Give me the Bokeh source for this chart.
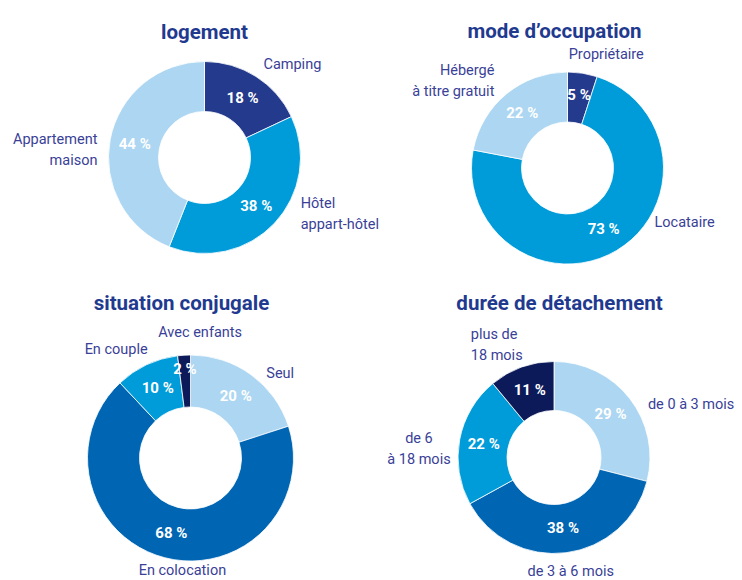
import math
from bokeh.plotting import figure
from bokeh.models import Range1d, ColumnDataSource
from bokeh.core.properties import value
from bokeh.embed import file_html
from bokeh.resources import INLINE

# ---------------- data ----------------
logement_cats = ["Camping", "Hôtel\nappart-hôtel", "Appartement\nmaison"]
logement_vals = [18, 38, 44]

occupation_cats = ["Propriétaire", "Locataire", "Hébergé\nà titre gratuit"]
occupation_vals = [5, 73, 22]

conjugale_cats = ["Seul", "En colocation", "En couple", "Avec enfants"]
conjugale_vals = [20, 68, 10, 2]

duree_cats = ["de 0 à 3 mois", "de 3 à 6 mois", "de 6\nà 18 mois", "plus de\n18 mois"]
duree_vals = [29, 38, 22, 11]

titles = ["logement", "mode d’occupation", "situation conjugale", "durée de détachement"]

# ---------------- styles / layout ----------------
W, H = 742, 580
NAVY = "#243a8c"
MID = "#009bd9"
LIGHT = "#acd6f1"
DARK = "#0066b3"
DEEP = "#0c1a5a"
LABEL_COLOR = "#3a3f98"
TITLE_COLOR = "#1f3a8f"

panels = [
    dict(cats=logement_cats, vals=logement_vals, colors=[NAVY, MID, LIGHT],
         cx=204, cy=157, ro=96, ri=46, title=titles[0], tx=204, ty=31,
         nudges=[(0, 0, None), (16, -19, None), (1, 13, None)]),
    dict(cats=occupation_cats, vals=occupation_vals, colors=[NAVY, MID, LIGHT],
         cx=567, cy=167.5, ro=96, ri=46, title=titles[1], tx=554, ty=30,
         nudges=[(-16, -5, "left"), (31, -40, None), (-3, -2, None)]),
    dict(cats=conjugale_cats, vals=conjugale_vals, colors=[LIGHT, DARK, MID, DEEP],
         cx=190, cy=457.5, ro=103, ri=51, title=titles[2], tx=181, ty=302,
         nudges=[(7, 10, None), (21, -1, None), (7, -3, None), (17, -9, None)]),
    dict(cats=duree_cats, vals=duree_vals, colors=[LIGHT, DARK, MID, DEEP],
         cx=553.5, cy=457, ro=96, ri=47, title=titles[3], tx=559, ty=302,
         nudges=[(7, 14, None), (3, 5, None), (-27, 12, "center"), (-46, -9, "left")]),
]

p = figure(width=W, height=H, x_range=Range1d(0, W), y_range=Range1d(0, H),
           output_backend="svg", toolbar_location=None, min_border=0)
p.axis.visible = False
p.grid.visible = False
p.outline_line_color = None
p.background_fill_color = "white"
p.border_fill_color = "white"

for pn in panels:
    vals = pn["vals"]
    total = float(sum(vals))
    cx, cy = pn["cx"], H - pn["cy"]
    starts, ends, mids = [], [], []
    acc = 0.0
    for v in vals:
        a0 = acc / total * 2 * math.pi
        acc += v
        a1 = acc / total * 2 * math.pi
        starts.append(a0)
        ends.append(a1)
        mids.append((a0 + a1) / 2)
    # clockwise from top -> bokeh counter-clockwise from +x
    src = ColumnDataSource(dict(
        x=[cx] * len(vals), y=[cy] * len(vals),
        start=[math.pi / 2 - e for e in ends],
        end=[math.pi / 2 - s for s in starts],
        color=pn["colors"],
    ))
    p.annular_wedge(x="x", y="y", inner_radius=pn["ri"], outer_radius=pn["ro"],
                    start_angle="start", end_angle="end", direction="anticlock",
                    fill_color="color", line_color="white", line_width=0.8, source=src)

    # percentage labels (tiny slices pushed outward)
    rmid = (pn["ri"] + pn["ro"]) / 2
    radii = [(pn["ro"] - 14) if v < 4 else (rmid + 3 if v < 8 else rmid) for v in vals]
    px = [cx + r * math.sin(m) for r, m in zip(radii, mids)]
    py = [cy + r * math.cos(m) for r, m in zip(radii, mids)]
    ptxt = [f"{v} %" for v in vals]
    p.text(x=px, y=py, text=ptxt, text_color="white", text_font=value("Roboto"),
           text_font_style="bold", text_font_size="15px",
           text_align="center", text_baseline="middle")

    # category labels
    rl = pn["ro"] + 14
    for cat, m, (dx, dy, al) in zip(pn["cats"], mids, pn["nudges"]):
        s = math.sin(m)
        if al is None:
            al = "left" if s > 0.25 else ("right" if s < -0.25 else "center")
        lx = cx + rl * s + dx
        ly = cy + rl * math.cos(m) - dy
        p.text(x=[lx], y=[ly], text=[cat], text_color=LABEL_COLOR,
               text_font=value("Roboto"), text_font_size="14.5px",
               text_align=al, text_baseline="middle", text_line_height=1.25)

    # title
    p.text(x=[pn["tx"]], y=[H - pn["ty"]], text=[pn["title"]], text_color=TITLE_COLOR,
           text_font=value("Roboto"), text_font_style="bold", text_font_size="20.5px",
           text_align="center", text_baseline="alphabetic")

open("out.html", "w").write(file_html(p, INLINE))
